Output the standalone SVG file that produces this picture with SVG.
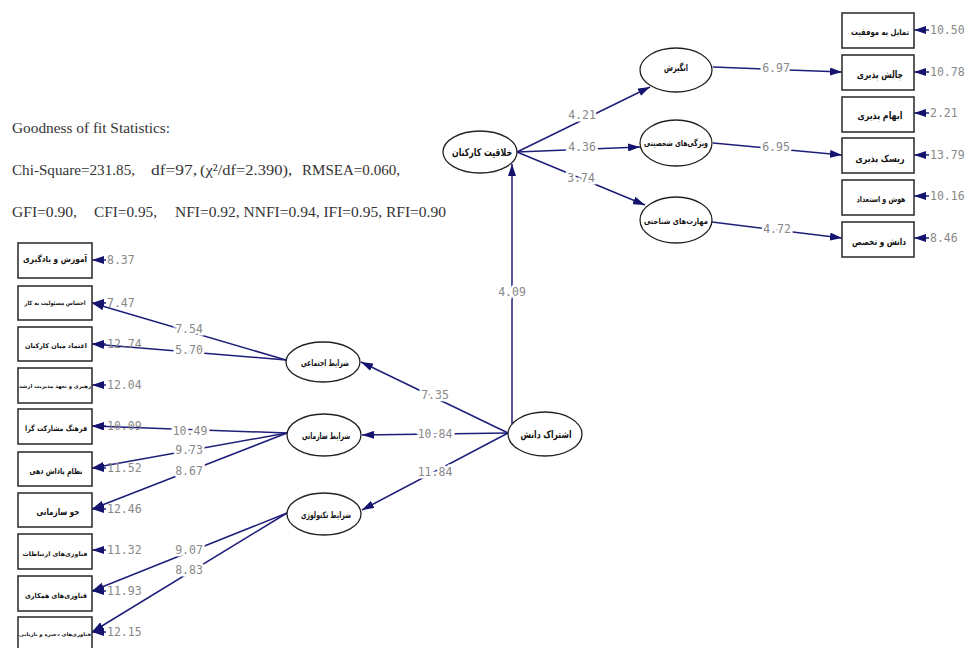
<svg xmlns="http://www.w3.org/2000/svg" width="966" height="648" viewBox="0 0 966 648">
<defs>
<marker id="ah" viewBox="0 0 12 8" refX="12" refY="4" markerWidth="12" markerHeight="8" markerUnits="userSpaceOnUse" orient="auto">
<path d="M0,0 L12,4 L0,8 z" fill="#14146e"/>
</marker>
</defs>
<style>
.bx{fill:#fff;stroke:#333;stroke-width:1.6}
.el{fill:#fff;stroke:#222;stroke-width:1.3}
.fa{font-family:"DejaVu Sans",sans-serif;font-weight:bold;fill:#111;text-anchor:middle}
.ln{stroke:#1e1e7a;stroke-width:1.5;fill:none;marker-end:url(#ah)}
.num{font-family:"DejaVu Sans Mono","Liberation Mono",monospace;font-size:11.5px;fill:#888}
.lab{text-anchor:middle;stroke:#fff;stroke-width:5;paint-order:stroke}
.st{font-family:"Liberation Serif",serif;font-size:15.5px;fill:#333}
</style>
<rect width="966" height="648" fill="#fff"/>

<g id="stats">
<text class="st" x="12" y="133" textLength="158" lengthAdjust="spacingAndGlyphs">Goodness of fit Statistics:</text>
<text class="st" x="12" y="175" textLength="123" lengthAdjust="spacingAndGlyphs">Chi-Square=231.85,</text>
<text class="st" x="151" y="175" textLength="46" lengthAdjust="spacingAndGlyphs">df=97,</text>
<text class="st" x="200" y="175" textLength="92" lengthAdjust="spacingAndGlyphs">(χ²/df=2.390),</text>
<text class="st" x="302" y="175" textLength="98" lengthAdjust="spacingAndGlyphs">RMSEA=0.060,</text>
<text class="st" x="12" y="217" textLength="65" lengthAdjust="spacingAndGlyphs">GFI=0.90,</text>
<text class="st" x="94" y="217" textLength="63" lengthAdjust="spacingAndGlyphs">CFI=0.95,</text>
<text class="st" x="175" y="217" textLength="271" lengthAdjust="spacingAndGlyphs">NFI=0.92, NNFI=0.94, IFI=0.95, RFI=0.90</text>
</g>

<g id="connectors">
<line class="ln" x1="512" y1="424" x2="512" y2="164"/>
<line class="ln" x1="508" y1="433" x2="361" y2="362"/>
<line class="ln" x1="508" y1="433" x2="362" y2="435"/>
<line class="ln" x1="508" y1="433" x2="362" y2="510"/>
<line class="ln" x1="517" y1="152" x2="650" y2="87"/>
<line class="ln" x1="517" y1="152" x2="640" y2="147"/>
<line class="ln" x1="517" y1="152" x2="645" y2="205"/>
<line class="ln" x1="713" y1="67" x2="842" y2="72"/>
<line class="ln" x1="713" y1="143" x2="842" y2="155"/>
<line class="ln" x1="712" y1="222" x2="842" y2="238"/>
<line class="ln" x1="286" y1="360" x2="92" y2="303"/>
<line class="ln" x1="286" y1="360" x2="92" y2="344"/>
<line class="ln" x1="287" y1="433" x2="92" y2="426"/>
<line class="ln" x1="287" y1="433" x2="92" y2="468"/>
<line class="ln" x1="287" y1="433" x2="92" y2="509"/>
<line class="ln" x1="287" y1="513" x2="92" y2="591"/>
<line class="ln" x1="287" y1="513" x2="92" y2="632"/>
<line class="ln" x1="106" y1="260" x2="92" y2="260"/>
<line class="ln" x1="106" y1="303" x2="92" y2="303"/>
<line class="ln" x1="106" y1="344" x2="92" y2="344"/>
<line class="ln" x1="106" y1="385" x2="92" y2="385"/>
<line class="ln" x1="106" y1="426" x2="92" y2="426"/>
<line class="ln" x1="106" y1="468" x2="92" y2="468"/>
<line class="ln" x1="106" y1="509" x2="92" y2="509"/>
<line class="ln" x1="106" y1="550" x2="92" y2="550"/>
<line class="ln" x1="106" y1="591" x2="92" y2="591"/>
<line class="ln" x1="106" y1="632" x2="92" y2="632"/>
<line class="ln" x1="929" y1="30" x2="914" y2="30"/>
<line class="ln" x1="929" y1="72" x2="914" y2="72"/>
<line class="ln" x1="929" y1="113" x2="914" y2="113"/>
<line class="ln" x1="929" y1="155" x2="914" y2="155"/>
<line class="ln" x1="929" y1="196" x2="914" y2="196"/>
<line class="ln" x1="929" y1="238" x2="914" y2="238"/>
<text class="num lab" x="512" y="296">4.09</text>
<text class="num lab" x="435" y="399">7.35</text>
<text class="num lab" x="435" y="438">10.84</text>
<text class="num lab" x="435" y="476">11.84</text>
<text class="num lab" x="582" y="119">4.21</text>
<text class="num lab" x="582" y="151">4.36</text>
<text class="num lab" x="581" y="182">3.74</text>
<text class="num lab" x="776" y="72">6.97</text>
<text class="num lab" x="776" y="151">6.95</text>
<text class="num lab" x="777" y="233">4.72</text>
<text class="num lab" x="189" y="333">7.54</text>
<text class="num lab" x="189" y="354">5.70</text>
<text class="num lab" x="190" y="435">10.49</text>
<text class="num lab" x="189" y="454">9.73</text>
<text class="num lab" x="189" y="475">8.67</text>
<text class="num lab" x="189" y="554">9.07</text>
<text class="num lab" x="189" y="574">8.83</text>
<text class="num" x="107" y="264">8.37</text>
<text class="num" x="107" y="307">7.47</text>
<text class="num" x="107" y="348">12.74</text>
<text class="num" x="107" y="389">12.04</text>
<text class="num" x="107" y="430">10.09</text>
<text class="num" x="107" y="472">11.52</text>
<text class="num" x="107" y="513">12.46</text>
<text class="num" x="107" y="554">11.32</text>
<text class="num" x="107" y="595">11.93</text>
<text class="num" x="107" y="636">12.15</text>
<text class="num" x="930" y="34">10.50</text>
<text class="num" x="930" y="76">10.78</text>
<text class="num" x="930" y="117">2.21</text>
<text class="num" x="930" y="159">13.79</text>
<text class="num" x="930" y="200">10.16</text>
<text class="num" x="930" y="242">8.46</text>
</g>

<g id="n-ks"><ellipse class="el" cx="545" cy="434" rx="37" ry="22"/><text class="fa" font-size="10.5" x="546" y="438" textLength="51" lengthAdjust="spacingAndGlyphs">اشتراک دانش</text></g>
<g id="n-creativity"><ellipse class="el" cx="480" cy="152" rx="37" ry="21"/><text class="fa" font-size="10.5" x="482" y="156" textLength="60" lengthAdjust="spacingAndGlyphs">خلاقیت کارکنان</text></g>
<g id="n-motivation"><ellipse class="el" cx="676" cy="70" rx="36" ry="22"/><text class="fa" font-size="9.5" x="676" y="71" textLength="24" lengthAdjust="spacingAndGlyphs">انگیزش</text></g>
<g id="n-personality"><ellipse class="el" cx="676" cy="143" rx="36" ry="23"/><text class="fa" font-size="8.5" x="676" y="146" textLength="64" lengthAdjust="spacingAndGlyphs">ویژگی‌های شخصیتی</text></g>
<g id="n-cognitive"><ellipse class="el" cx="676" cy="220" rx="36" ry="23"/><text class="fa" font-size="8.5" x="676" y="224" textLength="64" lengthAdjust="spacingAndGlyphs">مهارت‌های شناختی</text></g>
<g id="n-social"><ellipse class="el" cx="323" cy="362" rx="37" ry="20"/><text class="fa" font-size="9" x="325" y="366" textLength="48" lengthAdjust="spacingAndGlyphs">شرایط اجتماعی</text></g>
<g id="n-org"><ellipse class="el" cx="324" cy="435" rx="37" ry="21"/><text class="fa" font-size="9" x="326" y="439" textLength="48" lengthAdjust="spacingAndGlyphs">شرایط سازمانی</text></g>
<g id="n-tech"><ellipse class="el" cx="324" cy="514" rx="37" ry="21"/><text class="fa" font-size="9" x="326" y="518" textLength="50" lengthAdjust="spacingAndGlyphs">شرایط تکنولوژی</text></g>

<g id="r1"><rect class="bx" x="842" y="13" width="72" height="35"/><text class="fa" font-size="8.5" x="880" y="35" textLength="58" lengthAdjust="spacingAndGlyphs">تمایل به موفقیت</text></g>
<g id="r2"><rect class="bx" x="842" y="55" width="72" height="35"/><text class="fa" font-size="10" x="880" y="78" textLength="46" lengthAdjust="spacingAndGlyphs">چالش پذیری</text></g>
<g id="r3"><rect class="bx" x="842" y="97" width="72" height="35"/><text class="fa" font-size="10" x="880" y="119" textLength="45" lengthAdjust="spacingAndGlyphs">ابهام پذیری</text></g>
<g id="r4"><rect class="bx" x="842" y="138" width="72" height="35"/><text class="fa" font-size="10" x="880" y="162" textLength="49" lengthAdjust="spacingAndGlyphs">ریسک پذیری</text></g>
<g id="r5"><rect class="bx" x="842" y="180" width="72" height="35"/><text class="fa" font-size="8" x="881" y="202" textLength="49" lengthAdjust="spacingAndGlyphs">هوش و استعداد</text></g>
<g id="r6"><rect class="bx" x="842" y="222" width="72" height="35"/><text class="fa" font-size="9.5" x="879" y="245" textLength="54" lengthAdjust="spacingAndGlyphs">دانش و تخصص</text></g>

<g id="l1"><rect class="bx" x="18" y="243" width="74" height="35"/><text class="fa" font-size="8.5" x="55" y="262" textLength="64" lengthAdjust="spacingAndGlyphs">آموزش و یادگیری</text></g>
<g id="l2"><rect class="bx" x="18" y="286" width="74" height="34"/><text class="fa" font-size="6" x="55" y="305" textLength="61" lengthAdjust="spacingAndGlyphs">احساس مسئولیت به کار</text></g>
<g id="l3"><rect class="bx" x="18" y="327" width="74" height="34"/><text class="fa" font-size="6.6" x="56" y="348" textLength="62" lengthAdjust="spacingAndGlyphs">اعتماد میان کارکنان</text></g>
<g id="l4"><rect class="bx" x="18" y="368" width="74" height="35"/><text class="fa" font-size="5.2" x="55" y="388" textLength="72" lengthAdjust="spacingAndGlyphs">رهبری و تعهد مدیریت ارشد</text></g>
<g id="l5"><rect class="bx" x="18" y="409" width="74" height="35"/><text class="fa" font-size="7.5" x="56" y="431" textLength="62" lengthAdjust="spacingAndGlyphs">فرهنگ مشارکت گرا</text></g>
<g id="l6"><rect class="bx" x="18" y="452" width="74" height="34"/><text class="fa" font-size="8.5" x="56" y="474" textLength="53" lengthAdjust="spacingAndGlyphs">نظام پاداش دهی</text></g>
<g id="l7"><rect class="bx" x="18" y="493" width="74" height="34"/><text class="fa" font-size="9" x="58" y="515" textLength="43" lengthAdjust="spacingAndGlyphs">جو سازمانی</text></g>
<g id="l8"><rect class="bx" x="18" y="534" width="74" height="35"/><text class="fa" font-size="6.2" x="55" y="556" textLength="65" lengthAdjust="spacingAndGlyphs">فناوری‌های ارتباطات</text></g>
<g id="l9"><rect class="bx" x="18" y="576" width="74" height="35"/><text class="fa" font-size="7" x="56" y="598" textLength="62" lengthAdjust="spacingAndGlyphs">فناوری‌های همکاری</text></g>
<g id="l10"><rect class="bx" x="18" y="617" width="74" height="35"/><text class="fa" font-size="4.8" x="55" y="636" textLength="72" lengthAdjust="spacingAndGlyphs">فناوری‌های ذخیره و بازیابی</text></g>
</svg>
